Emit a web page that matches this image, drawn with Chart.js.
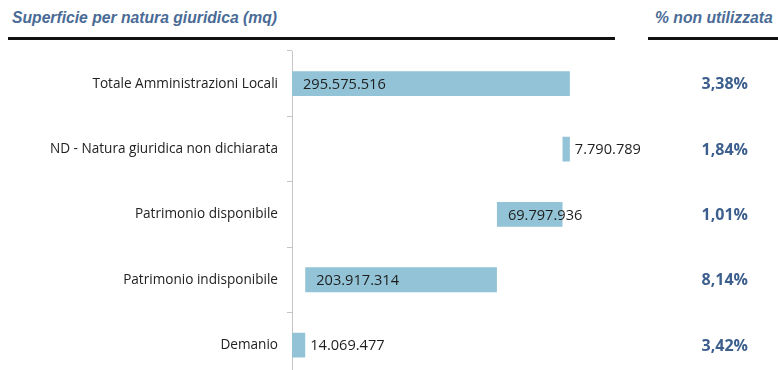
<!DOCTYPE html>
<html lang="it">
<head>
<meta charset="utf-8">
<title>Superficie per natura giuridica</title>
<script src="https://cdn.jsdelivr.net/npm/chart.js@4/dist/chart.umd.min.js"></script>
<style>
  html, body { margin: 0; padding: 0; background: #fff; overflow: hidden; }
  #wrap { position: relative; width: 778px; height: 370px; overflow: hidden; }
  #chart { position: absolute; left: 0; top: 0; }
  .head {
    position: absolute; top: 9px;
    font: italic bold 15.7px "Liberation Sans", Arial, sans-serif;
    color: #4a6b96;
  }
  .rule { position: absolute; top: 37px; height: 3px; background: #111; }
</style>
</head>
<body>
<div id="wrap">
  <div class="head" style="left:12px">Superficie per natura giuridica (mq)</div>
  <div class="head" style="left:655px">% non utilizzata</div>
  <div class="rule" style="left:8px; width:607px"></div>
  <div class="rule" style="left:648px; width:130px"></div>
  <canvas id="chart" width="778" height="395"></canvas>
</div>
<script>
// categorie dall'alto verso il basso
const categorie = [
  "Totale Amministrazioni Locali",
  "ND - Natura giuridica non dichiarata",
  "Patrimonio disponibile",
  "Patrimonio indisponibile",
  "Demanio"
];
// superficie in mq
const superficie = [295575516, 7790789, 69797936, 203917314, 14069477];
// quota non utilizzata (%)
const nonUtilizzata = [3.38, 1.84, 1.01, 8.14, 3.42];

// cascata: le voci partono dal basso (Demanio) e si accumulano fino al totale
const barre = new Array(categorie.length);
let base = 0;
for (let i = categorie.length - 1; i >= 1; i--) {
  barre[i] = [base, base + superficie[i]];
  base += superficie[i];
}
barre[0] = [0, superficie[0]];

const fmtNum = v => v.toLocaleString("it-IT");
const fmtPct = v => v.toLocaleString("it-IT", { minimumFractionDigits: 2 }) + "%";

const etichette = {
  id: "etichette",
  afterDatasetsDraw(chart) {
    const { ctx } = chart;
    const meta = chart.getDatasetMeta(0);
    ctx.save();
    ctx.textBaseline = "middle";
    meta.data.forEach((bar, i) => {
      const left = Math.min(bar.x, bar.base);
      const right = Math.max(bar.x, bar.base);
      ctx.font = '14.6px "Open Sans", sans-serif';
      ctx.fillStyle = "#1e1e1e";
      ctx.textAlign = "left";
      if (right - left > 30) {
        ctx.fillText(fmtNum(superficie[i]), left + 11, bar.y + 1);
      } else {
        ctx.fillText(fmtNum(superficie[i]), right + 5, bar.y + 1);
      }
      // colonna percentuale
      ctx.font = 'bold 16px "Open Sans", sans-serif';
      ctx.fillStyle = "#3d5f8d";
      ctx.textAlign = "right";
      ctx.fillText(fmtPct(nonUtilizzata[i]), 748, bar.y + 1);
    });
    ctx.restore();
  }
};

new Chart(document.getElementById("chart"), {
  type: "bar",
  data: {
    labels: categorie,
    datasets: [{
      data: barre,
      backgroundColor: "#92c3d6",
      borderWidth: 0,
      barPercentage: 0.38,
      categoryPercentage: 1
    }]
  },
  options: {
    indexAxis: "y",
    responsive: false,
    animation: false,
    layout: { padding: { top: 51, right: 157, bottom: 2, left: 0 } },
    plugins: { legend: { display: false }, tooltip: { enabled: false } },
    scales: {
      x: { display: false, min: 0, max: 350000000 },
      y: {
        afterFit(scale) { scale.width = 292; },
        grid: { drawOnChartArea: false, tickLength: 5, color: "#c4c4c4" },
        border: { color: "#c4c4c4" },
        ticks: {
          padding: 9,
          color: "#222",
          font: { family: "Open Sans", size: 13.6 }
        }
      }
    }
  },
  plugins: [etichette]
});
</script>
</body>
</html>
